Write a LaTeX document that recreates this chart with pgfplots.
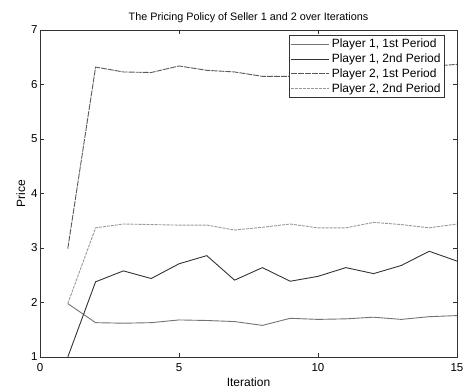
\documentclass[border=0pt]{standalone}
\usepackage{fontspec}
\setmainfont{Liberation Sans}
\usepackage{pgfplots}
\pgfplotsset{compat=1.18}
\begin{document}
\begin{tikzpicture}
\useasboundingbox (-40pt,-32pt) rectangle (424pt,357pt);
\begin{axis}[
  at={(0pt,0pt)}, anchor=south west,
  scale only axis, width=417pt, height=327pt,
  xmin=0, xmax=15, ymin=1, ymax=7,
  xtick={0,5,10,15}, ytick={1,2,3,4,5,6,7},
  tick align=inside, tick pos=both,
  major tick length=4pt,
  /pgf/number format/assume math mode=true,
  tick label style={font=\fontsize{11.5}{13}\selectfont},
  xticklabel style={yshift=-3pt},
  yticklabel style={xshift=1pt},
  label style={font=\fontsize{12}{14}\selectfont},
  title={The Pricing Policy of Seller 1 and 2 over Iterations},
  title style={font=\fontsize{10.8}{12}\selectfont, yshift=-2pt},
  xlabel={Iteration}, ylabel={Price},
  xlabel style={yshift=1pt},
  ylabel style={yshift=-1pt},
  axis line style={black!80, line width=0.8pt},
  every tick/.style={black!80},
  legend style={at={(0.971,0.985)}, anchor=north east, draw=black!80, line width=0.7pt,
    font=\fontsize{12}{14}\selectfont, row sep=0.5pt, inner sep=2pt},
  legend cell align=left,
  legend image code/.code={\draw[#1, line width=0.8pt] (0pt,0pt) -- (38pt,0pt);},
  every axis plot/.append style={line width=0.9pt},
]
\addplot[color=black!55, no marks] coordinates {
(1,1.98) (2,1.63) (3,1.62) (4,1.63) (5,1.68) (6,1.67) (7,1.65) (8,1.58)
(9,1.71) (10,1.69) (11,1.70) (12,1.73) (13,1.69) (14,1.74) (15,1.76)};
\addlegendentry{Player 1, 1st Period}
\addplot[color=black!80, no marks] coordinates {
(1,1.00) (2,2.38) (3,2.58) (4,2.44) (5,2.71) (6,2.86) (7,2.41) (8,2.64)
(9,2.39) (10,2.48) (11,2.64) (12,2.53) (13,2.68) (14,2.94) (15,2.76)};
\addlegendentry{Player 1, 2nd Period}
\addplot[color=black!65, dash pattern=on 6pt off 1pt, no marks] coordinates {
(1,2.99) (2,6.32) (3,6.23) (4,6.22) (5,6.34) (6,6.26) (7,6.23) (8,6.15)
(9,6.15) (10,6.2) (11,6.25) (12,6.3) (13,6.3) (14,6.33) (15,6.37)};
\addlegendentry{Player 2, 1st Period}
\addplot[color=black!40, dash pattern=on 3pt off 1pt, no marks] coordinates {
(1,1.98) (2,3.37) (3,3.44) (4,3.43) (5,3.42) (6,3.42) (7,3.33) (8,3.38)
(9,3.44) (10,3.37) (11,3.37) (12,3.47) (13,3.43) (14,3.37) (15,3.44)};
\addlegendentry{Player 2, 2nd Period}
\end{axis}
\end{tikzpicture}
\end{document}
